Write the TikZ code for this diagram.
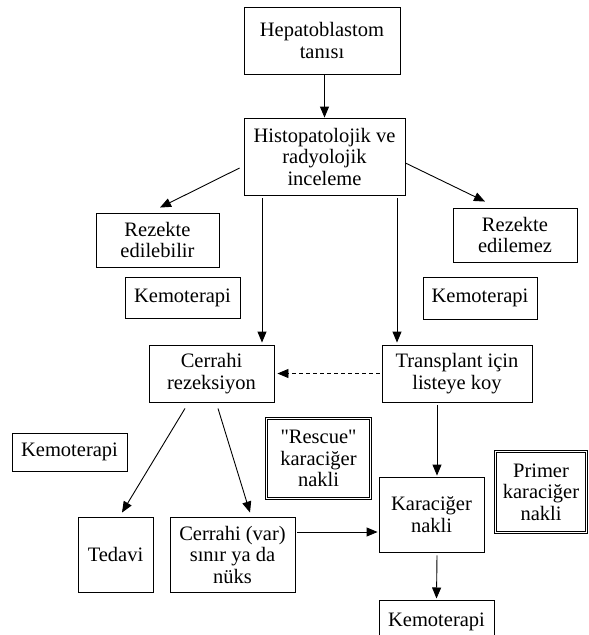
\documentclass[tikz,border=0pt]{standalone}
\usepackage{fontspec}
\setmainfont{Liberation Serif}
\usetikzlibrary{arrows.meta}
\begin{document}
\begin{tikzpicture}[x=1pt,y=-1pt,
  box/.style={draw, line width=0.9pt, align=center, inner sep=0pt, font=\fontsize{20.5}{21.5}\selectfont},
  dbox/.style={box, double, double distance=1.6pt, line width=0.7pt},
  arr/.style={line width=0.9pt, -{Triangle[length=11pt,width=9pt]}},
  darr/.style={arr, dash pattern=on 4pt off 3pt}]
\clip (0,0) rectangle (589,635);
\fill[white] (0,0) rectangle (589,635);
\node[box, minimum width=156pt, minimum height=67pt] (h1) at (322,40.5) {Hepatoblastom\\tanısı};
\node[box, minimum width=161pt, minimum height=77pt] (h2) at (324.5,156.5) {Histopatolojik ve\\radyolojik\\inceleme};
\node[box, minimum width=123pt, minimum height=54pt] (re1) at (157.5,240) {Rezekte\\edilebilir};
\node[box, minimum width=115pt, minimum height=41pt] (km1) at (182.5,297.5) {Kemoterapi};
\node[box, minimum width=124pt, minimum height=54pt] (re2) at (515,235) {Rezekte\\edilemez};
\node[box, minimum width=114pt, minimum height=42pt] (km2) at (480,298) {Kemoterapi};
\node[box, minimum width=125pt, minimum height=57pt] (cr) at (211.5,373.5) {Cerrahi\\rezeksiyon};
\node[box, minimum width=150pt, minimum height=57pt] (tr) at (457,373.5) {Transplant için\\listeye koy};
\node[box, minimum width=115pt, minimum height=38pt] (km3) at (69.5,452) {Kemoterapi};
\node[box, minimum width=75pt, minimum height=75pt] (ted) at (115.5,554.5) {Tedavi};
\node[box, minimum width=125pt, minimum height=75pt] (cv) at (232.5,554.5) {Cerrahi (var)\\sınır ya da\\nüks};
\node[dbox, minimum width=104pt, minimum height=80pt] (rs) at (318.5,458.5) {\textquotedbl Rescue\textquotedbl\\karaciğer\\nakli};
\node[box, minimum width=105pt, minimum height=75pt] (kn) at (431.5,514.5) {Karaciğer\\nakli};
\node[dbox, minimum width=91pt, minimum height=81pt] (pr) at (541,492) {Primer\\karaciğer\\nakli};
\node[box, anchor=north, minimum width=115pt, text height=14pt, text depth=30pt, inner ysep=12pt] (km4) at (436.5,600) {Kemoterapi};
\draw[arr] (h2.north |- h1.south) -- (h2.north);
\draw[arr] ([xshift=-4pt,yshift=-11.5pt]h2.west) -- ([xshift=2.5pt,yshift=5pt]re1.north);
\draw[arr] ([xshift=0pt,yshift=-6.5pt]h2.east) -- ([xshift=-30pt,yshift=6pt]re2.north);
\draw[arr] ([xshift=-62.5pt,yshift=-3pt]h2.south) -- ([xshift=50.5pt,yshift=2pt]cr.north);
\draw[arr] ([xshift=72.5pt,yshift=-3pt]h2.south) -- ([xshift=-60pt,yshift=2pt]tr.north);
\draw[darr] ([xshift=-2pt]tr.west) -- ([xshift=3pt]cr.east);
\draw[arr] ([xshift=-26.5pt,yshift=-6pt]cr.south) -- ([xshift=6.5pt,yshift=4pt]ted.north);
\draw[arr] ([xshift=6.5pt,yshift=-6pt]cr.south) -- ([xshift=17.5pt,yshift=4pt]cv.north);
\draw[arr] ([xshift=-20pt,yshift=-3pt]tr.south) -- ([xshift=5.5pt,yshift=1pt]kn.north);
\draw[arr] ([xshift=2pt,yshift=22.5pt]cv.east) -- ([xshift=-1pt,yshift=-17.5pt]kn.west);
\draw[arr] ([xshift=5.5pt,yshift=-3pt]kn.south) -- ([xshift=0pt,yshift=1.5pt]km4.north);
\end{tikzpicture}
\end{document}
